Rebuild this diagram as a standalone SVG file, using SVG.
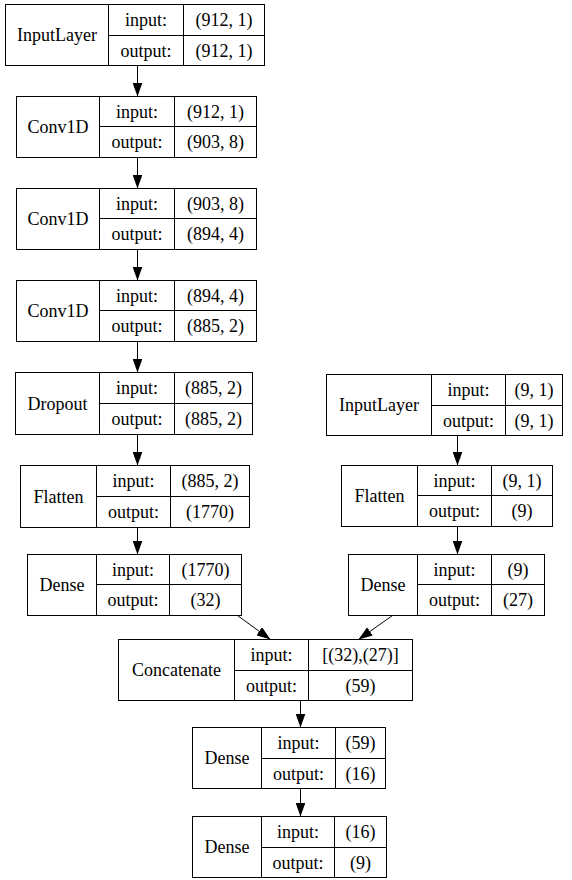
<svg xmlns="http://www.w3.org/2000/svg" width="572" height="880" viewBox="0 0 572 880">
<style>
.b{fill:#fff;stroke:#000;stroke-width:1}
.l{stroke:#000;stroke-width:1;fill:none}
text{font-family:"Liberation Serif","Times New Roman",serif;font-size:18px;fill:#000;text-anchor:middle}
.e{stroke:#000;stroke-width:1;fill:none;marker-end:url(#ah)}
</style>
<defs>
<marker id="ah" markerUnits="userSpaceOnUse" markerWidth="14" markerHeight="10" refX="14" refY="5" orient="auto">
<path d="M0,0 L14,5 L0,10 z" fill="#000"/>
</marker>
</defs>
<rect width="572" height="880" fill="#fff"/>
<g transform="translate(0.5,0.5)">
<g id="connectors">
<line class="e" x1="137" y1="65" x2="137" y2="96"/>
<line class="e" x1="137" y1="157" x2="137" y2="188"/>
<line class="e" x1="137" y1="249" x2="137" y2="280"/>
<line class="e" x1="137" y1="341" x2="137" y2="372"/>
<line class="e" x1="137" y1="434" x2="137" y2="465"/>
<line class="e" x1="137" y1="527" x2="137" y2="554"/>
<line class="e" x1="457" y1="435" x2="457" y2="465"/>
<line class="e" x1="457" y1="526" x2="457" y2="554"/>
<line class="e" x1="237" y1="615" x2="270" y2="639"/>
<line class="e" x1="392" y1="615" x2="358" y2="639"/>
<line class="e" x1="300" y1="700" x2="300" y2="727"/>
<line class="e" x1="300" y1="788" x2="300" y2="816"/>
</g>

<g id="input_1">
<rect class="b" x="5" y="4" width="259" height="61"/>
<path class="l" d="M108,4V65M183,4V65M108,35H264"/>
<text x="56.5" y="40.5">InputLayer</text>
<text x="145.5" y="25.5">input:</text>
<text x="145.5" y="56">output:</text>
<text x="223.5" y="25.5">(912, 1)</text>
<text x="223.5" y="56">(912, 1)</text>
</g>

<g id="conv1d_1">
<rect class="b" x="16" y="96" width="240" height="61"/>
<path class="l" d="M99,96V157M174,96V157M99,126H256"/>
<text x="57.5" y="132.5">Conv1D</text>
<text x="136.5" y="117">input:</text>
<text x="136.5" y="147.5">output:</text>
<text x="215" y="117">(912, 1)</text>
<text x="215" y="147.5">(903, 8)</text>
</g>

<g id="conv1d_2">
<rect class="b" x="16" y="188" width="240" height="61"/>
<path class="l" d="M99,188V249M174,188V249M99,218H256"/>
<text x="57.5" y="224.5">Conv1D</text>
<text x="136.5" y="209">input:</text>
<text x="136.5" y="239.5">output:</text>
<text x="215" y="209">(903, 8)</text>
<text x="215" y="239.5">(894, 4)</text>
</g>

<g id="conv1d_3">
<rect class="b" x="16" y="280" width="240" height="61"/>
<path class="l" d="M99,280V341M174,280V341M99,310H256"/>
<text x="57.5" y="316.5">Conv1D</text>
<text x="136.5" y="301">input:</text>
<text x="136.5" y="331.5">output:</text>
<text x="215" y="301">(894, 4)</text>
<text x="215" y="331.5">(885, 2)</text>
</g>

<g id="dropout">
<rect class="b" x="15" y="372" width="237" height="62"/>
<path class="l" d="M99,372V434M174,372V434M99,403H252"/>
<text x="57" y="409">Dropout</text>
<text x="136.5" y="393.5">input:</text>
<text x="136.5" y="424.5">output:</text>
<text x="213" y="393.5">(885, 2)</text>
<text x="213" y="424.5">(885, 2)</text>
</g>

<g id="flatten_1">
<rect class="b" x="20" y="465" width="229" height="62"/>
<path class="l" d="M96,465V527M170,465V527M96,496H249"/>
<text x="58" y="502">Flatten</text>
<text x="133" y="486.5">input:</text>
<text x="133" y="517.5">output:</text>
<text x="209.5" y="486.5">(885, 2)</text>
<text x="209.5" y="517.5">(1770)</text>
</g>

<g id="dense_1">
<rect class="b" x="27" y="554" width="214" height="61"/>
<path class="l" d="M96,554V615M169,554V615M96,584H241"/>
<text x="61.5" y="590.5">Dense</text>
<text x="132.5" y="575">input:</text>
<text x="132.5" y="605.5">output:</text>
<text x="205" y="575">(1770)</text>
<text x="205" y="605.5">(32)</text>
</g>

<g id="input_2">
<rect class="b" x="326" y="374" width="236" height="61"/>
<path class="l" d="M431,374V435M505,374V435M431,405H562"/>
<text x="378.5" y="410.5">InputLayer</text>
<text x="468" y="395.5">input:</text>
<text x="468" y="426">output:</text>
<text x="533.5" y="395.5">(9, 1)</text>
<text x="533.5" y="426">(9, 1)</text>
</g>

<g id="flatten_2">
<rect class="b" x="341" y="465" width="211" height="61"/>
<path class="l" d="M417,465V526M491,465V526M417,495H552"/>
<text x="379" y="501.5">Flatten</text>
<text x="454" y="486">input:</text>
<text x="454" y="516.5">output:</text>
<text x="521.5" y="486">(9, 1)</text>
<text x="521.5" y="516.5">(9)</text>
</g>

<g id="dense_2">
<rect class="b" x="348" y="554" width="196" height="61"/>
<path class="l" d="M417,554V615M491,554V615M417,584H544"/>
<text x="382.5" y="590.5">Dense</text>
<text x="454" y="575">input:</text>
<text x="454" y="605.5">output:</text>
<text x="517.5" y="575">(9)</text>
<text x="517.5" y="605.5">(27)</text>
</g>

<g id="concatenate">
<rect class="b" x="118" y="639" width="294" height="61"/>
<path class="l" d="M234,639V700M308,639V700M234,670H412"/>
<text x="176" y="675.5">Concatenate</text>
<text x="271" y="660.5">input:</text>
<text x="271" y="691">output:</text>
<text x="360" y="660.5">[(32),(27)]</text>
<text x="360" y="691">(59)</text>
</g>

<g id="dense_3">
<rect class="b" x="192" y="727" width="193" height="61"/>
<path class="l" d="M261,727V788M335,727V788M261,758H385"/>
<text x="226.5" y="763.5">Dense</text>
<text x="298" y="748.5">input:</text>
<text x="298" y="779">output:</text>
<text x="360" y="748.5">(59)</text>
<text x="360" y="779">(16)</text>
</g>

<g id="dense_4">
<rect class="b" x="192" y="816" width="194" height="61"/>
<path class="l" d="M261,816V877M334,816V877M261,847H386"/>
<text x="226.5" y="852.5">Dense</text>
<text x="297.5" y="837.5">input:</text>
<text x="297.5" y="868">output:</text>
<text x="360" y="837.5">(16)</text>
<text x="360" y="868">(9)</text>
</g>
</g>
</svg>
